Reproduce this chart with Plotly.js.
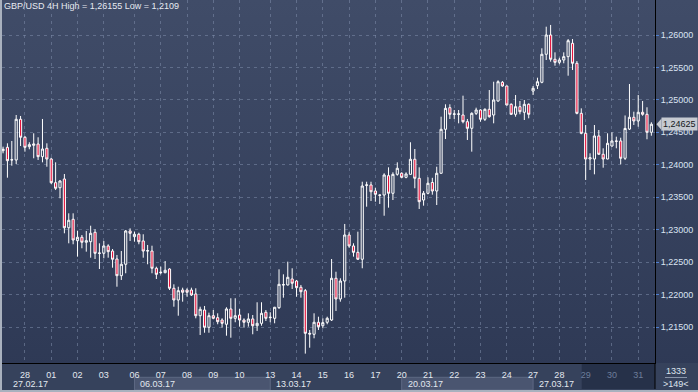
<!DOCTYPE html>
<html><head><meta charset="utf-8">
<script src="https://cdn.plot.ly/plotly-3.0.1.min.js"></script>
<style>
html,body{margin:0;padding:0;background:#2e3a56;}
#wrap{position:relative;width:698px;height:392px;overflow:hidden;background:linear-gradient(to bottom,#404c68 0%,#2d3854 100%);}
#chart{position:absolute;left:0;top:0;width:698px;height:392px;}
#frameL{position:absolute;left:0;top:0;width:2px;height:392px;background:#a9b1be;}
#frameB{position:absolute;left:0;bottom:0;width:698px;height:2px;background:#a9b1be;}
</style></head>
<body><div id="wrap"><div id="chart"></div><div id="frameL"></div><div id="frameB"></div></div>
<script>
// ---- data (GBP/USD 4H, one entry per bar) ----
const open = [1.24217,1.24269,1.24074,1.24074,1.24701,1.24424,1.24279,1.24300,1.24320,1.24125,
1.24254,1.24089,1.23724,1.23647,1.23781,1.23030,1.23160,1.22830,1.22883,1.22806,
1.22815,1.22960,1.22641,1.22636,1.22749,1.22671,1.22548,1.22291,1.22467,1.22980,
1.22892,1.22929,1.22826,1.22671,1.22671,1.22405,1.22337,1.22337,1.22394,1.22097,
1.21916,1.22070,1.22070,1.22070,1.22009,1.21674,1.21762,1.21496,1.21674,1.21644,
1.21608,1.21542,1.21778,1.21634,1.21685,1.21608,1.21573,1.21624,1.21520,1.21557,
1.21727,1.21644,1.21634,1.21798,1.22148,1.22148,1.22240,1.22209,1.22112,1.22060,
1.21403,1.21388,1.21573,1.21520,1.21573,1.21608,1.22251,1.21932,1.22209,1.22918,
1.22749,1.22651,1.22544,1.23684,1.23689,1.23596,1.23534,1.23534,1.23832,1.23561,
1.23853,1.23869,1.23807,1.23853,1.24085,1.23792,1.23457,1.23561,1.23727,1.23596,
1.23869,1.24547,1.24880,1.24778,1.24778,1.24767,1.24664,1.24562,1.24793,1.24844,
1.24701,1.24855,1.24767,1.24983,1.25271,1.25214,1.24932,1.24778,1.24895,1.24809,
1.24932,1.25137,1.25219,1.25271,1.25703,1.26000,1.25626,1.25579,1.25615,1.25666,
1.25872,1.25564,1.24793,1.24485,1.24089,1.24089,1.24444,1.24162,1.24089,1.24289,
1.24367,1.24367,1.24100,1.24550,1.24732,1.24675,1.24809,1.24778,1.24501];
const high = [1.24279,1.24331,1.24367,1.24767,1.24752,1.24444,1.24347,1.24485,1.24424,1.24706,
1.24331,1.24109,1.24038,1.23766,1.23858,1.23252,1.23252,1.22984,1.22918,1.22980,
1.23061,1.23006,1.22790,1.22826,1.22775,1.22702,1.22610,1.22671,1.22995,1.23021,
1.22969,1.22953,1.22929,1.22764,1.22753,1.22430,1.22430,1.22517,1.22405,1.22158,
1.22121,1.22106,1.22097,1.22106,1.22097,1.21813,1.21824,1.21721,1.21762,1.21711,
1.21634,1.21804,1.21943,1.21943,1.21778,1.21634,1.21711,1.21685,1.21881,1.21881,
1.21762,1.21727,1.21810,1.22389,1.22312,1.22507,1.22405,1.22225,1.22148,1.22086,
1.21454,1.21711,1.21659,1.21634,1.21659,1.22548,1.22352,1.22251,1.23088,1.22960,
1.22790,1.22969,1.23739,1.23739,1.23739,1.23647,1.23545,1.23869,1.23961,1.23884,
1.24038,1.23884,1.23884,1.24347,1.24243,1.23961,1.23596,1.23807,1.23799,1.23970,
1.24741,1.24932,1.24932,1.24844,1.24844,1.25065,1.24706,1.24809,1.24880,1.24855,
1.24870,1.25152,1.25280,1.25302,1.25291,1.25219,1.24947,1.25075,1.24983,1.24998,
1.24947,1.25214,1.25342,1.25795,1.26128,1.26155,1.25733,1.25650,1.25733,1.25938,
1.25938,1.25599,1.24870,1.24613,1.24177,1.24613,1.24536,1.24254,1.24485,1.24501,
1.24433,1.24417,1.24760,1.25245,1.24818,1.25075,1.24983,1.24886,1.24655];
const low = [1.24177,1.23801,1.23986,1.24012,1.24289,1.24202,1.24239,1.24100,1.24074,1.24038,
1.23970,1.23704,1.23611,1.23484,1.22944,1.22790,1.22775,1.22584,1.22713,1.22661,
1.22568,1.22548,1.22394,1.22559,1.22568,1.22414,1.22121,1.22225,1.22328,1.22826,
1.22815,1.22775,1.22568,1.22467,1.22328,1.22240,1.22312,1.22328,1.22070,1.21813,
1.21674,1.21890,1.21967,1.21978,1.21634,1.21377,1.21412,1.21412,1.21619,1.21542,
1.21490,1.21366,1.21335,1.21573,1.21505,1.21490,1.21505,1.21388,1.21439,1.21520,
1.21593,1.21573,1.21557,1.21778,1.21952,1.22140,1.22086,1.21967,1.21952,1.21090,
1.21181,1.21326,1.21454,1.21480,1.21542,1.21593,1.21747,1.21890,1.21952,1.22722,
1.22584,1.22533,1.22405,1.23354,1.23442,1.23431,1.23396,1.23215,1.23339,1.23457,
1.23832,1.23792,1.23792,1.23850,1.23638,1.23319,1.23370,1.23545,1.23539,1.23380,
1.23865,1.24397,1.24706,1.24706,1.24639,1.24639,1.24382,1.24202,1.24767,1.24664,
1.24675,1.24726,1.24639,1.24972,1.25203,1.24915,1.24767,1.24741,1.24778,1.24690,
1.24716,1.25075,1.25168,1.25256,1.25615,1.25589,1.25527,1.25549,1.25564,1.25373,
1.25461,1.24778,1.24470,1.23766,1.23920,1.23853,1.24151,1.23955,1.24085,1.24279,
1.24254,1.24007,1.24074,1.24536,1.24613,1.24587,1.24756,1.24393,1.24448];
const close = [1.24239,1.24063,1.24078,1.24701,1.24424,1.24269,1.24310,1.24320,1.24125,1.24243,
1.24089,1.23724,1.23638,1.23750,1.23030,1.23145,1.22841,1.22883,1.22806,1.22830,
1.22944,1.22636,1.22636,1.22749,1.22661,1.22544,1.22291,1.22467,1.22980,1.22944,
1.22929,1.22815,1.22671,1.22676,1.22405,1.22312,1.22343,1.22374,1.22097,1.21916,
1.22060,1.22035,1.22035,1.21993,1.21674,1.21773,1.21496,1.21674,1.21634,1.21582,
1.21557,1.21778,1.21634,1.21674,1.21608,1.21573,1.21624,1.21520,1.21557,1.21711,
1.21634,1.21650,1.21804,1.22158,1.22152,1.22266,1.22174,1.22106,1.22044,1.21403,
1.21392,1.21573,1.21505,1.21567,1.21634,1.22251,1.21932,1.22209,1.22918,1.22749,
1.22651,1.22544,1.23673,1.23689,1.23585,1.23545,1.23530,1.23843,1.23561,1.23853,
1.23946,1.23807,1.23858,1.24085,1.23792,1.23431,1.23561,1.23715,1.23596,1.23869,
1.24547,1.24870,1.24778,1.24783,1.24783,1.24664,1.24562,1.24793,1.24844,1.24701,
1.24855,1.24741,1.24998,1.25280,1.25214,1.24921,1.24778,1.24895,1.24818,1.24932,
1.24778,1.25179,1.25280,1.25703,1.26000,1.25626,1.25579,1.25615,1.25666,1.25912,
1.25564,1.24793,1.24485,1.24089,1.24109,1.24444,1.24162,1.24089,1.24331,1.24367,
1.24362,1.24100,1.24560,1.24732,1.24675,1.24809,1.24778,1.24501,1.24625];

// day separators: bar index where each day starts, and its label
const dayStartBar = [5,11,17,23,30,36,42,48,54,61,67,73,79,85,91,97,103,109,115,121,127,133,139,145];
const dayLabels = ['28','01','02','03','06','07','08','09','10','13','14','15','16','17','20','21','22','23','24','27','28','29','30','31'];
const futureDays = ['29','30','31'];
// week labels and the bar where each week starts
const weekStartBar = [0,30,61,91,121];
const weekLabels = ['27.02.17','06.03.17','13.03.17','20.03.17','27.03.17'];
const shadedWeeks = [[30,61],[91,121]];
const priceTicks = [1.215,1.22,1.225,1.23,1.235,1.24,1.245,1.25,1.255,1.26];
const lastPrice = 1.24625;
const titleText = 'GBP/USD 4H High = 1,26155 Low = 1,2109';
const volumeText = '1333';
const barsText = '>149<';

// ---- layout helpers (pixel geometry of the frame) ----
const W = 698, H = 392, ML = 2, MR = 43, MT = 0, MB = 29;
const PW = W - ML - MR, PH = H - MT - MB;
const px = p => (p - ML) / PW;           // x pixel -> paper
const py = p => (MT + PH - p) / PH;      // y pixel -> paper
const xr = [-0.24, 148.83];
const yr = [1.209453, 1.265394];

const bars = open.map((_, i) => i);
const FONT = 'Arial, "Liberation Sans", sans-serif';

const trace = {
  type: 'candlestick', x: bars, open: open, high: high, low: low, close: close,
  increasing: {line: {color: '#ffffff', width: 1}, fillcolor: 'rgba(0,0,0,0)'},
  decreasing: {line: {color: '#ffffff', width: 1}, fillcolor: '#e5133c'},
  whiskerwidth: 0, hoverinfo: 'skip', showlegend: false
};

const tickText = dayLabels.map(d => futureDays.includes(d) ? '<span style="color:#6d7d9a">' + d + '</span>' : d);

const shapes = [
  {type: 'rect', xref: 'paper', yref: 'paper', x0: px(0), x1: px(W), y0: py(363), y1: py(H), fillcolor: '#36425c', line: {width: 0}, layer: 'below'},
  {type: 'rect', xref: 'x', yref: 'paper', x0: 132.1, x1: xr[1], y0: py(363), y1: py(389), fillcolor: '#263149', line: {width: 0}, layer: 'below'},
  {type: 'line', xref: 'paper', yref: 'paper', x0: 1, x1: 1, y0: 0, y1: py(389), line: {color: '#000000', width: 1}},
  {type: 'line', xref: 'paper', yref: 'paper', x0: px(665), x1: px(687), y0: py(377.5), y1: py(377.5), line: {color: '#8a96aa', width: 1}},
  {type: 'path', xref: 'paper', yref: 'y', path: 'M ' + px(656.5) + ',' + lastPrice + ' L ' + px(661.5) + ',' + (lastPrice + 0.0009) + ' L ' + px(661.5) + ',' + (lastPrice - 0.0009) + ' Z', fillcolor: '#c6cad1', line: {width: 0}}
];
shadedWeeks.forEach(w => shapes.push({type: 'rect', xref: 'x', yref: 'paper', x0: w[0], x1: w[1], y0: py(377.3), y1: py(390), fillcolor: '#4a5570', line: {color: '#5d6883', width: 1}, layer: 'below'}));

const annotations = weekLabels.map((t, i) => ({
  text: t, xref: 'x', yref: 'paper', x: Math.max(weekStartBar[i], xr[0]), y: py(384), xanchor: 'left', yanchor: 'middle',
  xshift: i === 0 ? 8 : 4, showarrow: false, font: {family: FONT, size: 9, color: '#e3e8ef'}
}));
annotations.push({text: volumeText, xref: 'paper', yref: 'paper', x: px(676), y: py(371), xanchor: 'center', yanchor: 'middle', showarrow: false, font: {family: FONT, size: 9, color: '#dfe5ee'}});
annotations.push({text: barsText, xref: 'paper', yref: 'paper', x: px(676), y: py(384), xanchor: 'center', yanchor: 'middle', showarrow: false, font: {family: FONT, size: 9, color: '#dfe5ee'}});
annotations.push({text: lastPrice.toFixed(5).replace('.', ','), xref: 'paper', yref: 'y', x: px(661), y: lastPrice, xanchor: 'left', yanchor: 'middle', showarrow: false, bgcolor: '#c6cad1', borderpad: 1, font: {family: FONT, size: 9, color: '#141820'}});

const layout = {
  width: W, height: H, margin: {l: ML, r: MR, t: MT, b: MB, pad: 0},
  paper_bgcolor: 'rgba(0,0,0,0)', plot_bgcolor: 'rgba(0,0,0,0)',
  separators: ',.', showlegend: false, dragmode: false,
  title: {text: titleText, x: 4 / W, xanchor: 'left', xref: 'container', y: 1 - 3 / H, yanchor: 'top', yref: 'container', font: {family: FONT, size: 9, color: '#e6eaf1'}},
  xaxis: {range: xr, type: 'linear', tickmode: 'array', tickvals: dayStartBar, ticktext: tickText,
    showgrid: true, gridcolor: 'rgba(125,140,170,0.55)', griddash: '3px,4px', gridwidth: 1,
    zeroline: false, showline: true, linecolor: '#000000', linewidth: 1, ticks: '', ticklen: 0, ticklabelstandoff: 3,
    tickfont: {family: FONT, size: 9, color: '#e3e8ef'}, rangeslider: {visible: false}, fixedrange: true},
  yaxis: {range: yr, side: 'right', tickmode: 'array', tickvals: priceTicks, tickformat: '.5f',
    showgrid: true, gridcolor: 'rgba(125,140,170,0.55)', griddash: '3px,4px', gridwidth: 1,
    zeroline: false, showline: true, linecolor: '#000000', linewidth: 1, ticks: 'outside', ticklen: 3, tickcolor: '#4f7fd0',
    tickfont: {family: FONT, size: 9, color: '#dbe4f2'}, fixedrange: true},
  shapes: shapes, annotations: annotations
};

Plotly.newPlot('chart', [trace], layout, {displayModeBar: false, staticPlot: true});
</script></body></html>
